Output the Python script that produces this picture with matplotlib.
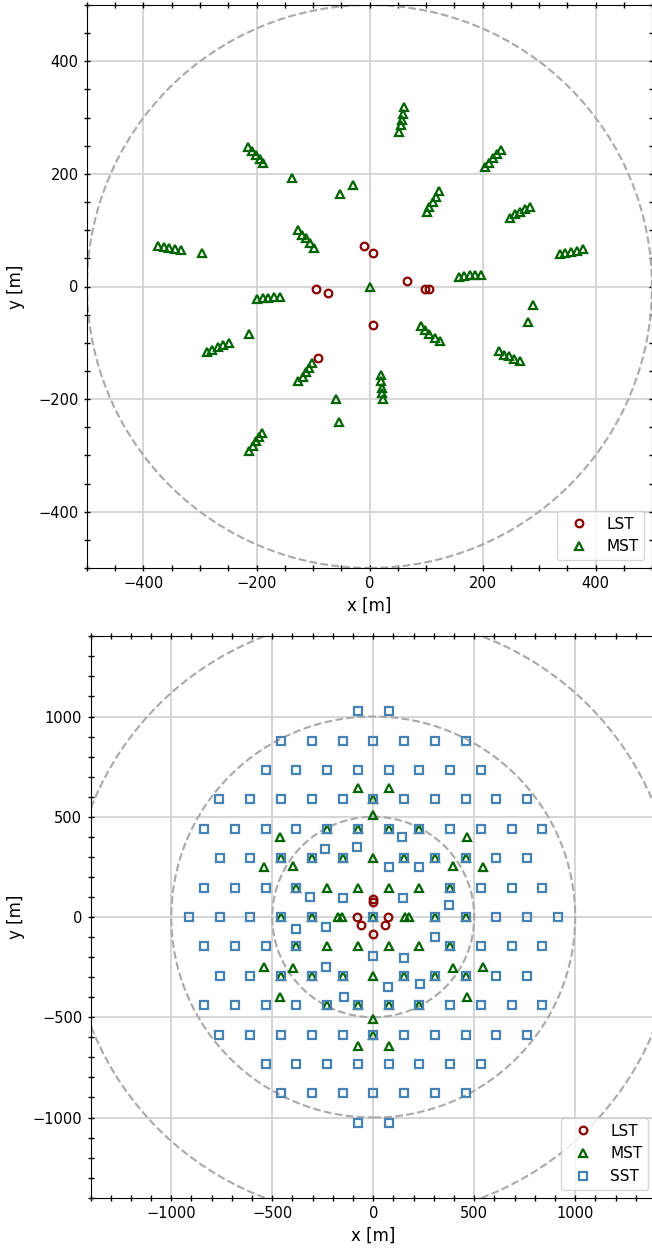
import matplotlib
matplotlib.use("Agg")
import matplotlib.pyplot as plt
from matplotlib.patches import Circle
from matplotlib.ticker import MultipleLocator

# --- top panel: LST + MST layout ---
lst_x_a = [-10, 6, 67, 98, 106, -95, -73, -91, 6]
lst_y_a = [72, 60, 9, -4, -4, -5, -12, -127, -69]

mst_x_a = [-215, -208, -201, -194, -188,
           -126, -120, -113, -106, -98,
           -374, -364, -355, -344, -334,
           61, 59, 57, 55, 53,
           233, 225, 218, 211, 204,
           123, 118, 112, 106, 101,
           284, 275, 266, 257, 249,
           377, 367, 357, 346, 337,
           197, 187, 178, 168, 158,
           -200, -189, -179, -169, -159,
           -288, -278, -269, -259, -249,
           -126, -118, -113, -107, -101,
           -213, -207, -201, -196, -190,
           91, 98, 106, 116, 125,
           20, 20, 22, 23, 24,
           230, 238, 247, 256, 266,
           -137, -30, -53, -297, 0, -213, -60, -54, 290, 281]
mst_y_a = [247, 240, 234, 227, 220,
           101, 92, 86, 78, 69,
           72, 70, 69, 67, 65,
           318, 306, 296, 286, 275,
           242, 235, 228, 219, 212,
           169, 159, 150, 142, 133,
           142, 137, 132, 128, 122,
           66, 63, 61, 59, 57,
           21, 21, 20, 18, 17,
           -23, -21, -20, -19, -18,
           -117, -112, -108, -104, -100,
           -168, -160, -152, -144, -136,
           -293, -284, -275, -267, -260,
           -71, -78, -84, -91, -97,
           -158, -168, -180, -190, -200,
           -115, -121, -124, -128, -132,
           192, 181, 164, 60, 0, -84, -199, -241, -33, -63]

# --- bottom panel: LST + MST + SST layout ---
lst_x_b = [0, 0, -80, -60, 75, 57, 0]
lst_y_b = [88, 76, 0, -38, 0, -38, -86]

mst_x_b = [0, -228, -76, 76, 228, -457, -305, -152, 152, 305, 457,
           -381, 381, -457, -305, 0, 305, 457, -381, 381,
           -457, -305, -152, 152, 305, 457, -228, -76, 76, 228, 0,
           -76, 76, 0, -463, 463, -541, 541, -397, 397, 0,
           -228, -76, 76, 228, -175, -155, 155, 175, -228, -76, 76, 228,
           0, -397, 397, -541, 541, -463, 463, 0, -76, 76]
mst_y_b = [587, 440, 440, 440, 440, 293, 293, 293, 293, 293, 293,
           147, 147, 0, 0, 0, 0, 0, -147, -147,
           -293, -293, -293, -293, -293, -293, -440, -440, -440, -440, -587,
           645, 645, 507, 397, 397, 247, 247, 255, 255, 293,
           146, 146, 146, 146, 0, 0, 0, 0, -146, -146, -146, -146,
           -293, -255, -255, -247, -247, -397, -397, -507, -645, -645]

sst_x_b = [-76, 76,
           -457, -305, -152, 0, 152, 305, 457,
           -533, -381, -228, -76, 76, 228, 381, 533,
           -762, -610, -457, -305, -152, 0, 152, 305, 457, 610, 762,
           -837, -685, -533, -381, -228, -76, 76, 228, 381, 533, 685, 837,
           -761, -609, -457, -305, -152, 152, 305, 457, 609, 761,
           -837, -685, -533, -381, 381, 533, 685, 837,
           -913, -761, -609, -457, -305, 0, 305, 457, 609, 761, 913,
           -837, -685, -533, -381, 381, 533, 685, 837,
           -761, -609, -457, -305, -152, 152, 305, 457, 609, 761,
           -837, -685, -533, -381, -228, -76, 76, 228, 381, 533, 685, 837,
           -762, -610, -457, -305, -152, 0, 152, 305, 457, 610, 762,
           -533, -381, -228, -76, 76, 228, 381, 533,
           -457, -305, -152, 0, 152, 305, 457,
           -76, 76,
           -238, -81, 142, 76, 228, -313, -152, 146, 377,
           -384, -235, 306, 0, 150, -235, 74, 232, -144]
sst_y_b = [1027, 1027,
           880, 880, 880, 880, 880, 880, 880,
           733, 733, 733, 733, 733, 733, 733, 733,
           587, 587, 587, 587, 587, 587, 587, 587, 587, 587, 587,
           440, 440, 440, 440, 440, 440, 440, 440, 440, 440, 440, 440,
           293, 293, 293, 293, 293, 293, 293, 293, 293, 293,
           147, 147, 147, 147, 147, 147, 147, 147,
           0, 0, 0, 0, 0, 0, 0, 0, 0, 0, 0,
           -147, -147, -147, -147, -147, -147, -147, -147,
           -293, -293, -293, -293, -293, -293, -293, -293, -293, -293,
           -440, -440, -440, -440, -440, -440, -440, -440, -440, -440, -440, -440,
           -587, -587, -587, -587, -587, -587, -587, -587, -587, -587, -587,
           -733, -733, -733, -733, -733, -733, -733, -733,
           -880, -880, -880, -880, -880, -880, -880,
           -1027, -1027,
           339, 351, 397, 251, 251, 98, 93, 93, 60,
           -60, -48, -98, -193, -203, -248, -348, -336, -397]

circle_radii_a = [500]
circle_radii_b = [500, 1000, 1500]

LST_COL = "darkred"
MST_COL = "darkgreen"
SST_COL = "steelblue"

mk = dict(ls="none", mfc="none", ms=5.5, mew=1.6)


def style_axes(ax, lim, major, minor, radii):
    for r in radii:
        ax.add_patch(Circle((0, 0), r, fill=False, ls="--", lw=1.5,
                            color="darkgray", zorder=1))
    ax.set_xlim(-lim, lim)
    ax.set_ylim(-lim, lim)
    ax.xaxis.set_major_locator(MultipleLocator(major))
    ax.yaxis.set_major_locator(MultipleLocator(major))
    ax.xaxis.set_minor_locator(MultipleLocator(minor))
    ax.yaxis.set_minor_locator(MultipleLocator(minor))
    ax.tick_params(which="both", direction="inout", top=True, right=True,
                   length=5, width=1, labelsize=10.5)
    ax.grid(True, which="major", color="lightgray", lw=1.3)
    ax.set_axisbelow(True)
    ax.set_xlabel("x [m]", fontsize=12)
    ax.set_ylabel("y [m]", fontsize=12)


fig = plt.figure(figsize=(6.52, 12.5), dpi=100)
ax1 = fig.add_axes([87 / 652, (1250 - 568) / 1250, 565 / 652, 563 / 1250])
ax2 = fig.add_axes([90.5 / 652, (1250 - 1197.7) / 1250, 565.5 / 652, 561.4 / 1250])

style_axes(ax1, 500, 200, 50, circle_radii_a)
ax1.plot(lst_x_a, lst_y_a, marker="o", mec=LST_COL, label="LST", zorder=5, **mk)
ax1.plot(mst_x_a, mst_y_a, marker="^", mec=MST_COL, label="MST", zorder=3, **mk)
ax1.legend(loc="lower right", fontsize=11)
ax1.yaxis.set_label_coords(-0.109, 0.5)

style_axes(ax2, 1400, 500, 100, circle_radii_b)
ax2.plot(lst_x_b, lst_y_b, marker="o", mec=LST_COL, label="LST", zorder=5, **mk)
ax2.plot(mst_x_b, mst_y_b, marker="^", mec=MST_COL, label="MST", zorder=3, **mk)
ax2.plot(sst_x_b, sst_y_b, marker="s", mec=SST_COL, label="SST", zorder=4, **mk)
ax2.legend(loc="lower right", fontsize=11)
ax2.yaxis.set_label_coords(-0.115, 0.5)

fig.savefig("out.png", dpi=100)
